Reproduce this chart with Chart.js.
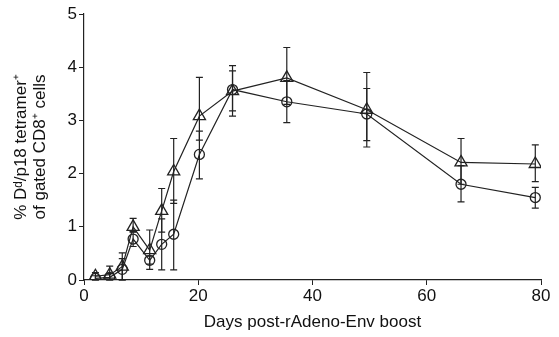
<!DOCTYPE html>
<html>
<head>
<meta charset="utf-8">
<script src="https://cdn.jsdelivr.net/npm/chart.js@4"></script>
<style>
  html, body { margin: 0; padding: 0; background: #fff; }
  #wrap { width: 559px; height: 337px; }
</style>
</head>
<body>
<div id="wrap"><canvas id="myChart" width="559" height="337"></canvas></div>
<script>
// days after boost
const days = [2, 4.5, 6.7, 8.6, 11.5, 13.6, 15.7, 20.2, 26, 35.5, 49.5, 66, 79];

// triangle series
const triMean = [0.07, 0.1, 0.25, 1.0, 0.56, 1.3, 2.04, 3.08, 3.55, 3.8, 3.2, 2.21, 2.18];
const triLow  = [0.0, 0.0, 0.0, 0.9, 0.2, 0.9, 1.44, 2.63, 3.08, 3.3, 2.5, 1.8, 1.85];
const triHigh = [0.14, 0.26, 0.51, 1.16, 0.94, 1.72, 2.66, 3.81, 4.03, 4.37, 3.9, 2.66, 2.54];

// circle series
const circMean = [0.03, 0.05, 0.2, 0.77, 0.37, 0.67, 0.86, 2.36, 3.58, 3.35, 3.12, 1.8, 1.55];
const circLow  = [0.0, 0.0, 0.0, 0.63, 0.3, 0.19, 0.19, 1.9, 3.18, 2.96, 2.62, 1.47, 1.35];
const circHigh = [0.08, 0.12, 0.4, 0.91, 0.45, 1.15, 1.5, 2.8, 3.93, 3.75, 3.6, 2.15, 1.74];

const xTicks = [0, 20, 40, 60, 80];
const yTicks = [0, 1, 2, 3, 4, 5];

function toPoints(xs, ys) {
    return xs.map((x, i) => ({ x: x, y: ys[i] }));
}

// error bars drawn through the chart scales
const errorBars = {
    id: 'errorBars',
    beforeDatasetsDraw(chart) {
        const ctx = chart.ctx;
        const xs = chart.scales.x, ys = chart.scales.y;
        const sets = [[triLow, triHigh], [circLow, circHigh]];
        ctx.save();
        ctx.strokeStyle = '#222';
        ctx.lineWidth = 1.2;
        sets.forEach(([lo, hi]) => {
            days.forEach((d, i) => {
                const px = xs.getPixelForValue(d);
                const yl = ys.getPixelForValue(lo[i]);
                const yh = ys.getPixelForValue(hi[i]);
                ctx.beginPath();
                ctx.moveTo(px, yl); ctx.lineTo(px, yh);
                ctx.moveTo(px - 3.5, yl); ctx.lineTo(px + 3.5, yl);
                ctx.moveTo(px - 3.5, yh); ctx.lineTo(px + 3.5, yh);
                ctx.stroke();
            });
        });
        ctx.restore();
    }
};

const font = 'Liberation Sans, Arial, sans-serif';
const ctx = document.getElementById('myChart').getContext('2d');
const myChart = new Chart(ctx, {
    type: 'scatter',
    data: {
        datasets: [{
            data: toPoints(days, triMean),
            showLine: true,
            borderColor: '#222',
            borderWidth: 1.2,
            pointStyle: 'triangle',
            pointRadius: 7,
            pointBorderWidth: 1.3,
            pointBackgroundColor: 'rgba(255,255,255,0)',
            pointBorderColor: '#222'
        }, {
            data: toPoints(days, circMean),
            showLine: true,
            borderColor: '#222',
            borderWidth: 1.2,
            pointStyle: 'circle',
            pointRadius: 5,
            pointBorderWidth: 1.3,
            pointBackgroundColor: 'rgba(255,255,255,0)',
            pointBorderColor: '#222'
        }]
    },
    options: {
        responsive: false,
        animation: false,
        layout: { padding: { top: 14, right: 18, left: 0, bottom: 0 } },
        plugins: { legend: { display: false }, tooltip: { enabled: false } },
        scales: {
            x: {
                type: 'linear',
                min: 0, max: 80,
                afterBuildTicks: (axis) => { axis.ticks = xTicks.map(v => ({ value: v })); },
                afterFit: (axis) => { axis.height = 57; },
                border: { display: true, color: '#222', width: 1.2 },
                grid: { drawOnChartArea: false, drawTicks: true, tickLength: 5, color: '#222' },
                ticks: { color: '#111', font: { family: font, size: 17 }, padding: 1, maxRotation: 0 },
                title: {
                    display: true,
                    text: 'Days post-rAdeno-Env boost',
                    color: '#111',
                    font: { family: font, size: 17 },
                    padding: { top: 1 }
                }
            },
            y: {
                type: 'linear',
                min: 0, max: 5,
                afterBuildTicks: (axis) => { axis.ticks = yTicks.map(v => ({ value: v })); },
                afterFit: (axis) => { axis.width = 84; },
                border: { display: true, color: '#222', width: 1.2 },
                grid: { drawOnChartArea: false, drawTicks: true, tickLength: 5, color: '#222' },
                ticks: { color: '#111', font: { family: font, size: 17 }, padding: 2 },
                title: {
                    display: true,
                    text: ['% Dᵈ/p18 tetramer⁺', 'of gated CD8⁺ cells'],
                    color: '#111',
                    font: { family: font, size: 17, lineHeight: 1.1 },
                    padding: { bottom: 0, top: 12 }
                }
            }
        }
    },
    plugins: [errorBars]
});
</script>
</body>
</html>
